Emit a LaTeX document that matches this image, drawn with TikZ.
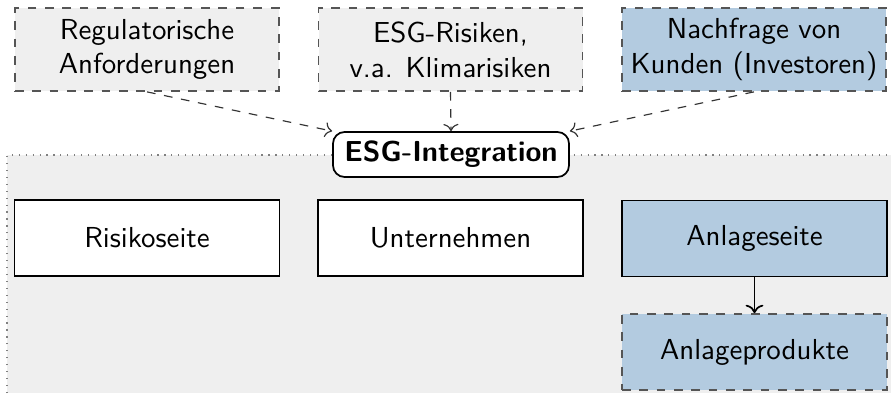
\documentclass[tikz,border=0pt]{standalone}
\usetikzlibrary{arrows.meta}
\definecolor{boxgray}{HTML}{EFEFEF}
\definecolor{boxblue}{HTML}{B3CBE0}
\definecolor{edgegray}{HTML}{555555}
\def\u{0.346pt}
\tikzset{
  base/.style={draw, semithick, align=center, font=\sffamily\fontsize{10}{12}\selectfont, inner sep=0pt},
  topbox/.style={base, dashed, draw=edgegray, minimum width={264*\u}, minimum height={83*\u}},
  rowbox/.style={base, minimum width={265*\u}, minimum height={76*\u}},
  grayfill/.style={fill=boxgray},
  bluefill/.style={fill=boxblue},
  centerbox/.style={base, rounded corners={4pt}, fill=white, font=\sffamily\bfseries, minimum width={236*\u}, minimum height={45*\u}},
  influence/.style={->, dashed, thin, draw=black!80},
  flow/.style={->, semithick}
}
\begin{document}
\begin{tikzpicture}[x=\u, y=-\u]
\clip (0,0) rectangle (892,396);
\useasboundingbox (0,0) rectangle (892,396);
\fill[boxgray] (7,155) rectangle (891,393);
\draw[dotted, gray, thin] (7,393) -- (7,155) -- (891,155);
\node[topbox, grayfill] (b1) at (147,49.5) {Regulatorische\\Anforderungen};
\node[topbox, grayfill] (b2) at (450.5,49.5) {ESG-Risiken,\\v.a. Klimarisiken};
\node[topbox, bluefill] (b3) at (754,49.5) {Nachfrage von\\Kunden (Investoren)};
\node[centerbox] (esg) at (451,154.5) {ESG-Integration};
\node[rowbox, fill=white] (r1) at (147,238) {Risikoseite};
\node[rowbox, fill=white] (r2) at (450.5,238) {Unternehmen};
\node[rowbox, bluefill] (r3) at (754.5,238.5) {Anlageseite};
\node[rowbox, bluefill, dashed, draw=edgegray] (r4) at (754.5,352) {Anlageprodukte};
\draw[influence] (b1.south) -- (esg.north west);
\draw[influence] (b2.south) -- (esg.north);
\draw[influence] (b3.south) -- (esg.north east);
\draw[flow] (r3.south) -- (r4.north);
\end{tikzpicture}
\end{document}
